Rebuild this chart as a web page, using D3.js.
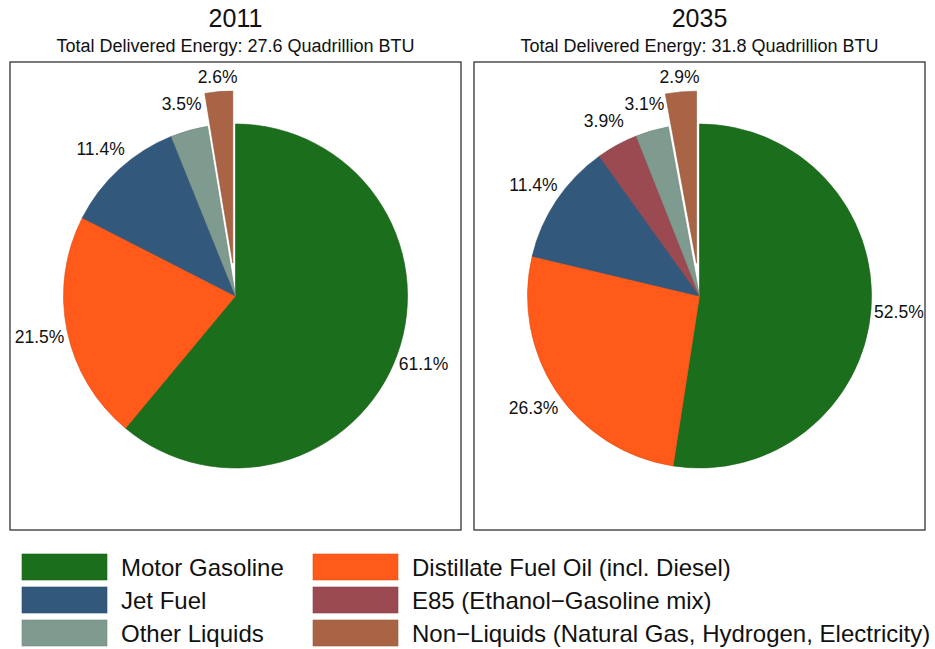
<!DOCTYPE html>
<html><head><meta charset="utf-8">
<script src="https://cdn.jsdelivr.net/npm/d3@7"></script>
<style>body{margin:0;background:#fff}svg{display:block}text{font-family:"Liberation Sans",Arial,sans-serif;fill:#111}</style>
</head><body><svg id="c" width="935" height="649"></svg>
<script>
const categories = ["Motor Gasoline","Distillate Fuel Oil (incl. Diesel)","Jet Fuel","E85 (Ethanol\u2212Gasoline mix)","Other Liquids","Non\u2212Liquids (Natural Gas, Hydrogen, Electricity)"];
const colors = ["#1b6e1b","#ff5a19","#32587c","#9a4a50","#7f9a8e","#a86444"];
const exploded = [false,false,false,false,false,true];
const values2011 = [61.1,21.5,11.4,0,3.5,2.6];
const values2035 = [52.5,26.3,11.4,3.9,3.1,2.9];
const years = ["2011","2035"];
const totals = ["27.6","31.8"];
const legendOrder = [[0,1],[2,3],[4,5]];

const svg = d3.select("#c");
const panels = [
  {vals: values2011, x0: 10, x1: 461},
  {vals: values2035, x0: 474, x1: 925}
];
const r = 172, cy = 296, explodeOff = 33;
const arc = d3.arc().innerRadius(0).outerRadius(r);
const pie = d3.pie().sort(null).value(d => d.v);

panels.forEach((p, pi) => {
  const cx = (p.x0 + p.x1) / 2;
  svg.append("text").attr("x", cx).attr("y", 27).attr("text-anchor","middle")
     .style("font-size","25px").text(years[pi]);
  svg.append("text").attr("x", cx).attr("y", 52).attr("text-anchor","middle")
     .style("font-size","18px").text("Total Delivered Energy: " + totals[pi] + " Quadrillion BTU");
  svg.append("rect").attr("x", p.x0).attr("y", 62).attr("width", p.x1 - p.x0).attr("height", 468)
     .attr("fill","none").attr("stroke","#222").attr("stroke-width",1.2);
  const data = p.vals.map((v,i)=>({v, i})).filter(d => d.v > 0);
  const arcs = pie(data);
  const g = svg.append("g").attr("transform", `translate(${cx},${cy})`);
  arcs.forEach(a => {
    const mid = (a.startAngle + a.endAngle) / 2;
    const off = exploded[a.data.i] ? explodeOff : 0;
    const dx = off * Math.sin(mid), dy = -off * Math.cos(mid);
    g.append("path").attr("d", arc(a)).attr("transform", `translate(${dx},${dy})`)
     .attr("fill", colors[a.data.i]).attr("stroke", d3.color(colors[a.data.i]).darker(0.4)).attr("stroke-width",0.6);
    const lr = 200 + (exploded[a.data.i] ? 20 : 0);
    g.append("text").attr("x", lr * Math.sin(mid)).attr("y", -lr * Math.cos(mid))
     .attr("text-anchor","middle").attr("dy","0.36em").style("font-size","17.5px")
     .text(a.data.v.toFixed(1) + "%");
  });
});

// legend
const colX = [22, 313], rowY = [554, 587, 620], sw = 85, sh = 26;
legendOrder.forEach((row, ri) => {
  row.forEach((ci, cj) => {
    svg.append("rect").attr("x", colX[cj]).attr("y", rowY[ri]).attr("width", sw).attr("height", sh)
       .attr("fill", colors[ci]).attr("stroke", d3.color(colors[ci]).darker(0.3)).attr("stroke-width",0.6);
    svg.append("text").attr("x", colX[cj] + 99).attr("y", rowY[ri] + sh/2).attr("dy","0.36em")
       .style("font-size","24px").text(categories[ci]);
  });
});
</script></body></html>
